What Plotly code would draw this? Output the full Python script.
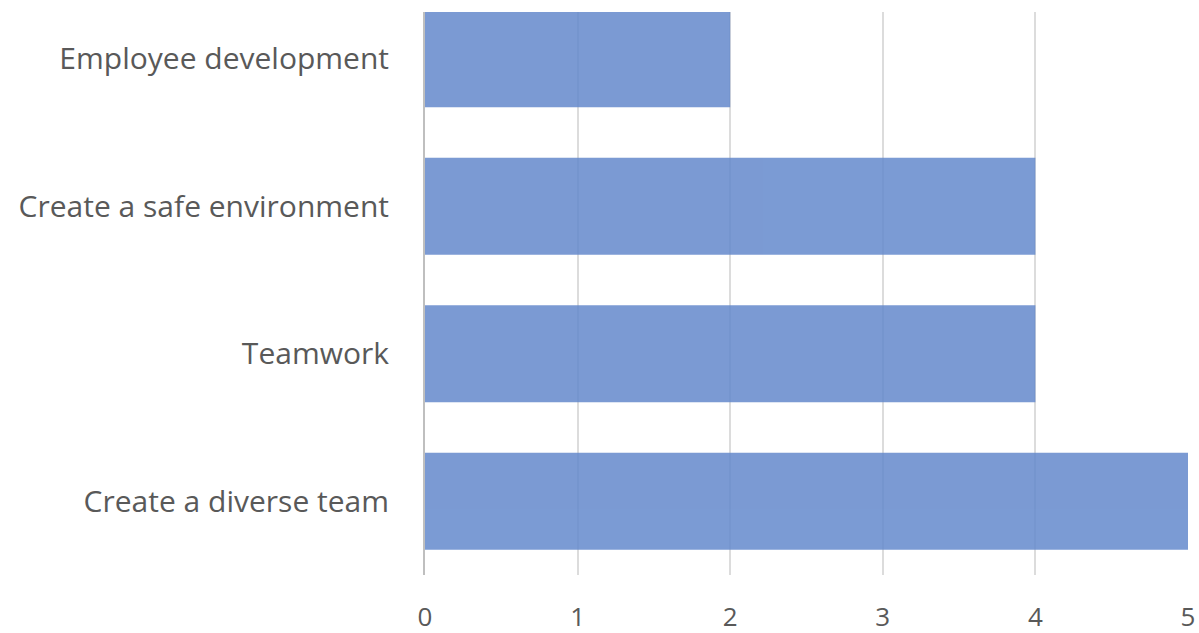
import plotly.graph_objects as go

# Categories listed bottom-to-top as they appear on the axis
categories = ["Create a diverse team", "Teamwork", "Create a safe environment", "Employee development"]
values = [5, 4, 4, 2]
x_ticks = [0, 1, 2, 3, 4, 5]

fig = go.Figure(
    go.Bar(
        x=values,
        y=categories,
        orientation="h",
        marker=dict(color="rgb(100,137,204)", line=dict(width=0)),
        opacity=0.85,
        hoverinfo="x+y",
    )
)

fig.update_layout(
    width=1199,
    height=633,
    margin=dict(l=425, r=11, t=12, b=58),
    paper_bgcolor="white",
    plot_bgcolor="white",
    bargap=0.342,
    showlegend=False,
    font=dict(family="Open Sans, Noto Sans, sans-serif", color="#595959", size=30),
)

fig.update_xaxes(
    range=[0, 5],
    tickvals=x_ticks,
    showgrid=True,
    gridcolor="#dcdcdc",
    gridwidth=1.5,
    zeroline=False,
    showline=False,
    ticks="outside",
    ticklen=19,
    tickcolor="rgba(0,0,0,0)",
    tickfont=dict(size=26, color="#595959"),
    automargin=False,
    fixedrange=True,
)

fig.update_yaxes(
    type="category",
    categoryorder="array",
    categoryarray=categories,
    range=[-0.5, 3.317],
    showgrid=False,
    zeroline=False,
    showline=True,
    linecolor="#bfbfbf",
    linewidth=2,
    ticks="",
    ticklabelstandoff=28,
    tickfont=dict(size=30, color="#595959"),
    automargin=False,
    fixedrange=True,
)

fig.write_html("out.html")
